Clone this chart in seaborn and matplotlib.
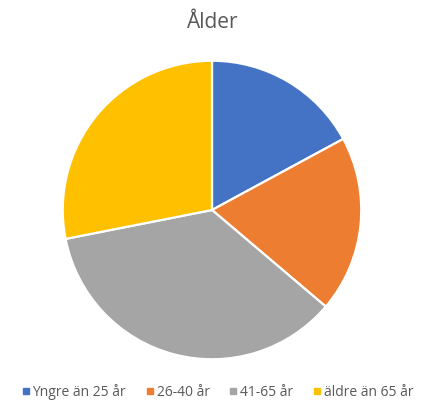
import matplotlib
matplotlib.use("Agg")
import matplotlib.pyplot as plt
import seaborn as sns
from matplotlib.lines import Line2D

categories = ["Yngre än 25 år", "26-40 år", "41-65 år", "äldre än 65 år"]
values = [17.1, 19.1, 35.7, 28.1]
colors = ["#4472C4", "#ED7D31", "#A5A5A5", "#FFC000"]
title = "Ålder"

sns.set_theme(style="white")
plt.rcParams['font.family'] = ['Open Sans', 'DejaVu Sans']
palette = sns.color_palette(colors)

W, H = 444, 403
fig = plt.figure(figsize=(W / 100, H / 100), dpi=100)
ax = fig.add_axes([62 / W, 43 / H, 300 / W, 300 / H])
ax.pie(values, colors=palette, startangle=90, counterclock=False, radius=1,
       wedgeprops=dict(edgecolor="white", linewidth=1.6))
ax.set_xlim(-1.005, 1.005)
ax.set_ylim(-1.005, 1.005)
ax.set_aspect("equal")
ax.axis("off")

fig.text(212 / W, 1 - 22 / H, title, ha="center", va="center", fontsize=15, color="#595959")

handles = [Line2D([0], [0], marker="s", linestyle="none", markersize=5,
                  markerfacecolor=c, markeredgecolor=c) for c in palette]
fig.legend(handles, categories, loc="center", bbox_to_anchor=(217 / W, 11 / H), ncol=4,
           frameon=False, fontsize=10, labelcolor="#595959", handletextpad=0.15,
           columnspacing=1.35, handlelength=0.7)

fig.savefig("out.png", dpi=100, facecolor="white")
